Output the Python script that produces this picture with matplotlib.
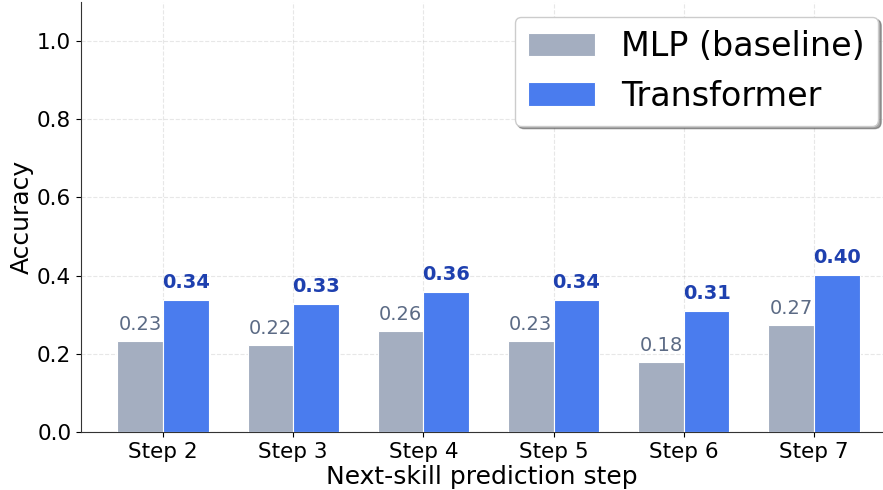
import numpy as np
import matplotlib
matplotlib.use("Agg")
import matplotlib.pyplot as plt

steps = ["Step 2", "Step 3", "Step 4", "Step 5", "Step 6", "Step 7"]
mlp = [0.233, 0.222, 0.258, 0.232, 0.179, 0.274]
transformer = [0.337, 0.328, 0.358, 0.338, 0.310, 0.401]

gray, blue = "#a4aec0", "#4a7cee"

fig = plt.figure(figsize=(8.83, 4.9), dpi=100)
ax = fig.add_axes([81 / 883, 58 / 490, 1 - 81 / 883, 430 / 490])

x = np.arange(len(steps))
w = 0.35
b1 = ax.bar(x - w / 2, mlp, w, color=gray, edgecolor="white", linewidth=0.8,
            label="MLP (baseline)", zorder=3)
b2 = ax.bar(x + w / 2, transformer, w, color=blue, edgecolor="white", linewidth=0.8,
            label="Transformer", zorder=3)

for rect, v in zip(b1, mlp):
    ax.text(rect.get_x() + rect.get_width() / 2, v + 0.018, f"{v:.2f}",
            ha="center", va="bottom", fontsize=14, color="#5c6b85")
for rect, v in zip(b2, transformer):
    ax.text(rect.get_x() + rect.get_width() / 2, v + 0.02, f"{v:.2f}",
            ha="center", va="bottom", fontsize=14, color="#1e40af", fontweight="bold")

ax.set_xticks(x)
ax.set_xticklabels(steps, fontsize=15.5)
ax.tick_params(axis="y", labelsize=15.5)
ax.set_ylim(0, 1.1)
ax.set_xlim(-0.63, 5.53)
ax.set_yticks([0.0, 0.2, 0.4, 0.6, 0.8, 1.0])
ax.set_xlabel("Next-skill prediction step", fontsize=18, labelpad=2)
ax.set_ylabel("Accuracy", fontsize=18, labelpad=2)
ax.grid(True, linestyle="--", alpha=0.3, zorder=0)
for s in ["top", "right"]:
    ax.spines[s].set_visible(False)
ax.spines["left"].set_color("#333333")
ax.spines["bottom"].set_color("#333333")

ax.legend(fontsize=24, loc="upper right", bbox_to_anchor=(1.015, 1.005),
          shadow=True, frameon=True, fancybox=True)

fig.savefig("out.png", dpi=100)
